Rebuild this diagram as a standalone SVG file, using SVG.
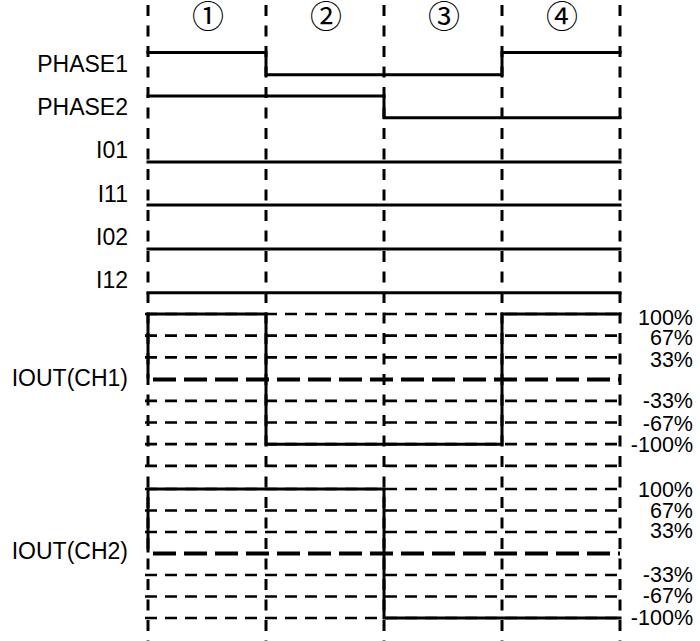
<svg xmlns="http://www.w3.org/2000/svg" width="700" height="641" viewBox="0 0 700 641">
<style>
  .lbl { font-family: "Liberation Sans", Arial, sans-serif; font-size: 23px; fill: #000; }
  .l { text-anchor: end; }
  .pct { font-family: "Liberation Sans", Arial, sans-serif; font-size: 21.5px; fill: #000; text-anchor: end; }
  .num { font-family: "Noto Sans CJK JP", "DejaVu Sans", sans-serif; font-size: 32px; fill: #000; text-anchor: middle; }
  .vd { stroke: #000; stroke-width: 3; stroke-dasharray: 11 9.5; fill: none; }
  .hd { stroke: #000; stroke-width: 2.7; stroke-dasharray: 12 8; fill: none; }
  .hz { stroke: #000; stroke-width: 4; stroke-dasharray: 23 8; fill: none; }
  .s { stroke: #000; stroke-width: 3; fill: none; stroke-linejoin: miter; stroke-linecap: square; }
</style>
<rect width="700" height="641" fill="#fff"/>

<g id="phase-markers">
  <text class="num" x="208" y="28">①</text>
  <text class="num" x="326" y="28">②</text>
  <text class="num" x="444" y="28">③</text>
  <text class="num" x="562" y="28">④</text>
</g>

<g id="labels">
  <text class="lbl l" x="128" y="72">PHASE1</text>
  <text class="lbl l" x="128" y="115">PHASE2</text>
  <text class="lbl l" x="128" y="158">I01</text>
  <text class="lbl l" x="128" y="202">I11</text>
  <text class="lbl l" x="128" y="245">I02</text>
  <text class="lbl l" x="128" y="288">I12</text>
  <text class="lbl l" x="128" y="386">IOUT(CH1)</text>
  <text class="lbl l" x="128" y="559">IOUT(CH2)</text>
</g>

<g id="scale-labels">
  <text class="pct" x="693" y="325">100%</text>
  <text class="pct" x="693" y="345">67%</text>
  <text class="pct" x="693" y="367">33%</text>
  <text class="pct" x="693" y="408">-33%</text>
  <text class="pct" x="693" y="431">-67%</text>
  <text class="pct" x="693" y="452">-100%</text>
  <text class="pct" x="693" y="497">100%</text>
  <text class="pct" x="693" y="518">67%</text>
  <text class="pct" x="693" y="538">33%</text>
  <text class="pct" x="693" y="582">-33%</text>
  <text class="pct" x="693" y="603">-67%</text>
  <text class="pct" x="693" y="625">-100%</text>
</g>

<g id="grid">
  <line class="vd" x1="148" y1="5" x2="148" y2="641"/>
  <line class="vd" x1="266" y1="5" x2="266" y2="641"/>
  <line class="vd" x1="384" y1="5" x2="384" y2="641"/>
  <line class="vd" x1="502" y1="5" x2="502" y2="641"/>
  <line class="vd" x1="620" y1="5" x2="620" y2="641"/>
  <!-- CH1 levels -->
  <line class="hd" x1="145" y1="314" x2="620" y2="314"/>
  <line class="hd" x1="145" y1="335.7" x2="620" y2="335.7"/>
  <line class="hd" x1="145" y1="357.4" x2="620" y2="357.4"/>
  <line class="hz" x1="153" y1="379.5" x2="620" y2="379.5"/>
  <line class="hd" x1="145" y1="400.8" x2="620" y2="400.8"/>
  <line class="hd" x1="145" y1="422.5" x2="620" y2="422.5"/>
  <line class="hd" x1="145" y1="444.2" x2="620" y2="444.2"/>
  <line class="hd" x1="145" y1="465.9" x2="620" y2="465.9"/>
  <!-- CH2 levels -->
  <line class="hd" x1="145" y1="489" x2="620" y2="489"/>
  <line class="hd" x1="145" y1="510.5" x2="620" y2="510.5"/>
  <line class="hd" x1="145" y1="532" x2="620" y2="532"/>
  <line class="hz" x1="153" y1="553.5" x2="620" y2="553.5"/>
  <line class="hd" x1="145" y1="575" x2="620" y2="575"/>
  <line class="hd" x1="145" y1="596.5" x2="620" y2="596.5"/>
  <line class="hd" x1="145" y1="618" x2="620" y2="618"/>
</g>

<g id="signals">
  <polyline id="phase1" class="s" points="148,52.5 266,52.5 266,74.7 502,74.7 502,52.5 620,52.5"/>
  <polyline id="phase2" class="s" points="148,96 384,96 384,117.7 620,117.7"/>
  <line id="i01" class="s" x1="148" y1="162" x2="620" y2="162"/>
  <line id="i11" class="s" x1="148" y1="205" x2="620" y2="205"/>
  <line id="i02" class="s" x1="148" y1="249" x2="620" y2="249"/>
  <line id="i12" class="s" x1="148" y1="292.7" x2="620" y2="292.7"/>
  <polyline id="iout-ch1" class="s" points="148,377 148,314 266,314 266,444.2 502,444.2 502,314 620,314"/>
  <polyline id="iout-ch2" class="s" points="148,551 148,489 384,489 384,618 620,618"/>
</g>
</svg>
